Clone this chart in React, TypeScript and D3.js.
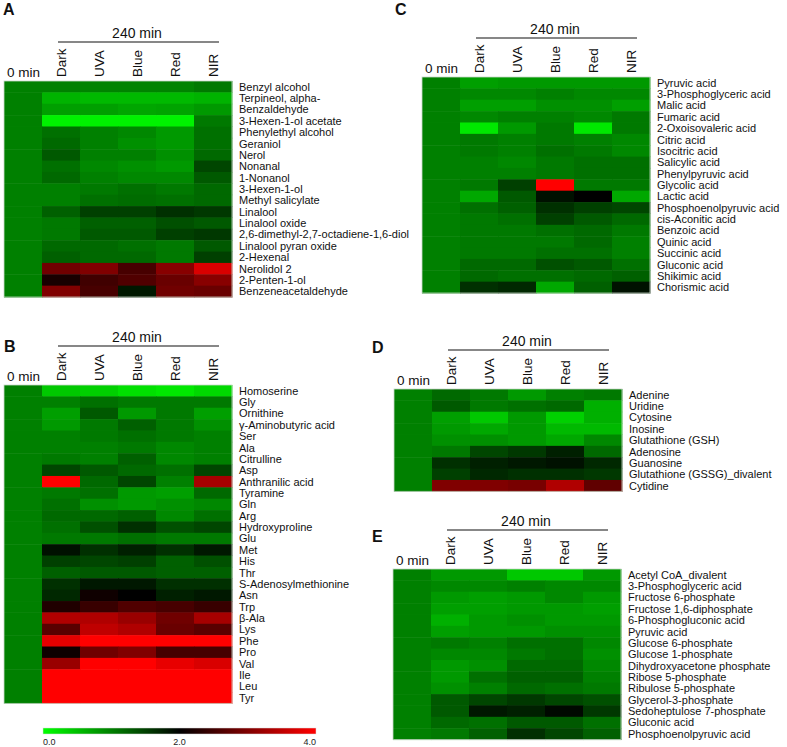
import React from "react";
import * as d3 from "d3";

const conditions = ["0 min", "Dark", "UVA", "Blue", "Red", "NIR"];
const lightConds = ["Dark", "UVA", "Blue", "Red", "NIR"];

const rowsA = ["Benzyl alcohol", "Terpineol, alpha-", "Benzaldehyde", "3-Hexen-1-ol acetate", "Phenylethyl alcohol", "Geraniol", "Nerol", "Nonanal", "1-Nonanol", "3-Hexen-1-ol", "Methyl salicylate", "Linalool", "Linalool oxide", "2,6-dimethyl-2,7-octadiene-1,6-diol", "Linalool pyran oxide", "2-Hexenal", "Nerolidol 2", "2-Penten-1-ol", "Benzeneacetaldehyde"];
const valuesA = [
  [1.0, 0.97, 0.97, 0.97, 1.05],
  [0.6, 0.55, 0.55, 0.55, 0.6],
  [0.75, 0.75, 0.7, 0.72, 0.8],
  [0.1, 0.1, 0.1, 0.1, 1.05],
  [1.12, 1.0, 0.93, 0.8, 1.12],
  [1.18, 1.0, 0.87, 0.8, 1.12],
  [1.3, 1.0, 1.0, 0.87, 1.18],
  [1.12, 0.93, 0.87, 0.8, 1.45],
  [1.18, 1.0, 0.93, 0.93, 1.3],
  [1.0, 1.05, 1.12, 1.05, 1.18],
  [1.0, 1.12, 1.15, 1.12, 1.18],
  [1.25, 1.5, 1.5, 1.62, 1.56],
  [1.05, 1.25, 1.25, 1.37, 1.3],
  [1.05, 1.3, 1.3, 1.5, 1.56],
  [1.18, 1.18, 1.12, 1.05, 1.3],
  [1.25, 1.18, 1.18, 1.05, 1.5],
  [2.88, 3.0, 2.56, 3.07, 3.7],
  [2.19, 2.5, 2.63, 2.82, 3.07],
  [3.0, 2.56, 1.81, 2.88, 2.82],
];

const rowsB = ["Homoserine", "Gly", "Ornithine", "γ-Aminobutyric acid", "Ser", "Ala", "Citrulline", "Asp", "Anthranilic acid", "Tyramine", "Gln", "Arg", "Hydroxyproline", "Glu", "Met", "His", "Thr", "S-Adenosylmethionine", "Asn", "Trp", "β-Ala", "Lys", "Phe", "Pro", "Val", "Ile", "Leu", "Tyr"];
const valuesB = [
  [0.43, 0.37, 0.24, 0.18, 0.3],
  [1.0, 1.12, 1.05, 1.05, 1.05],
  [0.75, 1.3, 0.8, 1.05, 0.75],
  [0.8, 1.05, 1.25, 1.05, 0.87],
  [1.0, 1.05, 1.12, 1.05, 1.0],
  [1.0, 1.0, 1.05, 0.93, 1.0],
  [1.05, 1.0, 1.25, 0.93, 1.0],
  [1.45, 1.3, 1.18, 1.12, 1.45],
  [4.0, 1.18, 1.45, 1.0, 3.3],
  [1.05, 1.12, 0.8, 0.75, 1.18],
  [1.12, 0.87, 0.8, 0.87, 0.93],
  [1.18, 1.18, 1.25, 0.93, 1.12],
  [1.12, 1.37, 1.62, 1.37, 1.45],
  [1.05, 1.05, 1.12, 1.05, 1.05],
  [1.87, 1.62, 1.75, 1.62, 1.81],
  [1.5, 1.45, 1.5, 1.25, 1.37],
  [1.25, 1.3, 1.3, 1.25, 1.25],
  [1.62, 1.81, 1.81, 1.62, 1.62],
  [1.69, 2.12, 2.0, 1.75, 1.81],
  [2.25, 2.44, 2.63, 2.56, 2.44],
  [3.38, 3.38, 3.2, 2.88, 3.3],
  [2.7, 3.5, 3.38, 2.82, 2.7],
  [3.8, 4.0, 4.0, 4.0, 4.0],
  [2.12, 2.88, 3.0, 2.56, 2.56],
  [3.2, 4.0, 4.0, 3.82, 3.7],
  [4.0, 4.0, 4.0, 4.0, 4.0],
  [4.0, 4.0, 4.0, 4.0, 4.0],
  [4.0, 4.0, 4.0, 4.0, 4.0],
];

const rowsC = ["Pyruvic acid", "3-Phosphoglyceric acid", "Malic acid", "Fumaric acid", "2-Oxoisovaleric acid", "Citric acid", "Isocitric acid", "Salicylic acid", "Phenylpyruvic acid", "Glycolic acid", "Lactic acid", "Phosphoenolpyruvic acid", "cis-Aconitic acid", "Benzoic acid", "Quinic acid", "Succinic acid", "Gluconic acid", "Shikimic acid", "Chorismic acid"];
const valuesC = [
  [0.75, 0.8, 0.8, 0.8, 0.8],
  [0.93, 0.93, 1.0, 0.93, 0.93],
  [0.75, 0.75, 0.87, 0.87, 0.75],
  [0.93, 1.0, 1.0, 0.93, 1.05],
  [0.18, 0.8, 1.05, 0.18, 1.05],
  [1.05, 1.0, 1.05, 1.0, 0.93],
  [1.05, 1.0, 1.12, 1.05, 0.93],
  [1.0, 0.93, 1.05, 1.12, 1.12],
  [1.0, 1.0, 1.05, 1.12, 1.12],
  [1.05, 1.5, 4.0, 1.05, 1.05],
  [0.68, 1.3, 1.87, 2.0, 0.68],
  [1.12, 1.25, 1.62, 1.5, 1.45],
  [1.05, 1.12, 1.5, 1.3, 1.18],
  [1.05, 1.05, 1.12, 1.18, 1.05],
  [1.05, 1.05, 1.05, 1.18, 1.0],
  [1.05, 1.05, 1.12, 1.12, 1.0],
  [1.18, 1.18, 1.37, 1.3, 1.12],
  [1.18, 1.12, 1.12, 1.18, 1.25],
  [1.62, 1.69, 0.68, 1.25, 1.87],
];

const rowsD = ["Adenine", "Uridine", "Cytosine", "Inosine", "Glutathione (GSH)", "Adenosine", "Guanosine", "Glutathione (GSSG)_divalent", "Cytidine"];
const valuesD = [
  [1.18, 1.05, 0.8, 1.0, 1.05],
  [1.3, 1.05, 1.12, 1.18, 0.62],
  [0.75, 0.43, 0.8, 0.37, 0.62],
  [0.8, 0.68, 0.8, 0.55, 0.55],
  [0.87, 0.87, 0.8, 0.68, 0.93],
  [1.05, 1.45, 1.56, 1.75, 1.18],
  [1.62, 1.75, 1.81, 1.87, 1.69],
  [1.5, 1.69, 1.62, 1.62, 1.56],
  [3.0, 3.0, 2.94, 3.38, 2.75],
];

const rowsE = ["Acetyl CoA_divalent", "3-Phosphoglyceric acid", "Fructose 6-phosphate", "Fructose 1,6-diphosphate", "6-Phosphogluconic acid", "Pyruvic acid", "Glucose 6-phosphate", "Glucose 1-phosphate", "Dihydroxyacetone phosphate", "Ribose 5-phosphate", "Ribulose 5-phosphate", "Glycerol-3-phosphate", "Sedoheptulose 7-phosphate", "Gluconic acid", "Phosphoenolpyruvic acid"];
const valuesE = [
  [0.8, 0.8, 0.43, 0.43, 0.8],
  [0.93, 0.93, 1.0, 0.93, 0.93],
  [0.8, 0.75, 0.8, 0.93, 0.8],
  [0.75, 0.75, 0.8, 0.8, 0.75],
  [0.62, 0.8, 0.87, 0.8, 0.8],
  [0.75, 0.8, 0.8, 0.87, 0.87],
  [1.05, 1.0, 1.12, 1.12, 0.93],
  [0.93, 0.93, 1.05, 1.12, 0.87],
  [0.8, 0.87, 1.18, 1.18, 0.93],
  [0.8, 1.12, 1.25, 1.25, 1.0],
  [0.87, 1.0, 1.18, 1.12, 1.05],
  [1.3, 1.45, 1.56, 1.45, 1.37],
  [1.3, 1.81, 1.75, 1.94, 1.56],
  [1.18, 1.12, 1.3, 1.3, 1.12],
  [1.05, 1.25, 1.62, 1.45, 1.25],
];

const baselineValue = 1.0; // 0 min reference
const colorTicks = [0, 2, 4];
const colorTickLabels = ["0.0", "2.0", "4.0"];

const FONT = "'Liberation Sans', Arial, sans-serif";
const color = d3.scaleLinear<string>().domain([0, 2, 4]).range(["#00ff00", "#000000", "#ff0000"]).clamp(true);

const ROW_H = 11.37;
const HM_W = 228;

function Panel({ letter, lx, ly, x0, y0, rows, values }: any) {
  const x = d3.scaleBand().domain(conditions).range([x0, x0 + HM_W]);
  const y = d3.scaleBand().domain(rows).range([y0, y0 + ROW_H * rows.length]);
  const bw = x.bandwidth();
  const bh = y.bandwidth();
  return (
    <g>
      <text x={lx} y={ly} fontFamily={FONT} fontWeight="bold" fontSize={16} fill="#111">{letter}</text>
      <text x={x0 + 133} y={y0 - 43} textAnchor="middle" fontFamily={FONT} fontSize={14} fill="#111">240 min</text>
      <line x1={x0 + 54} x2={x0 + 215} y1={y0 - 39} y2={y0 - 39} stroke="#111" strokeWidth={1.2} />
      <text x={x0 + 3} y={y0 - 4} fontFamily={FONT} fontSize={13.5} fill="#111">0 min</text>
      {lightConds.map((c) => {
        const cx = (x(c) as number) + bw / 2 + 5;
        return (
          <text key={c} transform={`translate(${cx},${y0 - 4}) rotate(-90)`} fontFamily={FONT} fontSize={13.5} fill="#111">{c}</text>
        );
      })}
      {rows.map((r: string, i: number) => (
        <g key={r}>
          <rect x={x("0 min")} y={y(r)} width={bw + 0.5} height={bh + 0.5} fill={color(baselineValue)} />
          {lightConds.map((c, j) => (
            <rect key={c} x={x(c)} y={y(r)} width={bw + 0.5} height={bh + 0.5} fill={color(values[i][j])} />
          ))}
          <text x={x0 + 235} y={(y(r) as number) + bh / 2 + 4} fontFamily={FONT} fontSize={11} fill="#111">{r}</text>
        </g>
      ))}
      <rect x={x0} y={y0} width={HM_W} height={ROW_H * rows.length} fill="none" stroke="#c8d8c8" strokeWidth={0.8} />
    </g>
  );
}

function ColorBar() {
  const cx = d3.scaleLinear().domain([0, 4]).range([43, 316]);
  return (
    <g>
      <defs>
        <linearGradient id="cbar" x1="0" x2="1" y1="0" y2="0">
          {colorTicks.map((t) => (
            <stop key={t} offset={`${(t / 4) * 100}%`} stopColor={color(t)} />
          ))}
        </linearGradient>
      </defs>
      <rect x={cx(0)} y={728} width={cx(4) - cx(0)} height={6} fill="url(#cbar)" stroke="#ddd" strokeWidth={0.5} />
      {colorTicks.map((t, i) => (
        <text key={t} x={cx(t)} y={745} fontFamily={FONT} fontSize={9} fill="#222"
          textAnchor={i === 0 ? "start" : i === colorTicks.length - 1 ? "end" : "middle"}>{colorTickLabels[i]}</text>
      ))}
    </g>
  );
}

export default function App() {
  return (
    <svg width={787} height={747} style={{ position: "absolute", left: 0, top: 0, background: "#fff" }}>
      <rect width={787} height={747} fill="#fff" />
      <Panel letter="A" lx={3} ly={15} x0={4} y0={81} rows={rowsA} values={valuesA} />
      <Panel letter="B" lx={4} ly={352} x0={4} y0={385} rows={rowsB} values={valuesB} />
      <Panel letter="C" lx={395} ly={15} x0={422} y0={77} rows={rowsC} values={valuesC} />
      <Panel letter="D" lx={372} ly={353} x0={394} y0={389} rows={rowsD} values={valuesD} />
      <Panel letter="E" lx={372} ly={542} x0={393} y0={569} rows={rowsE} values={valuesE} />
      <ColorBar />
    </svg>
  );
}
